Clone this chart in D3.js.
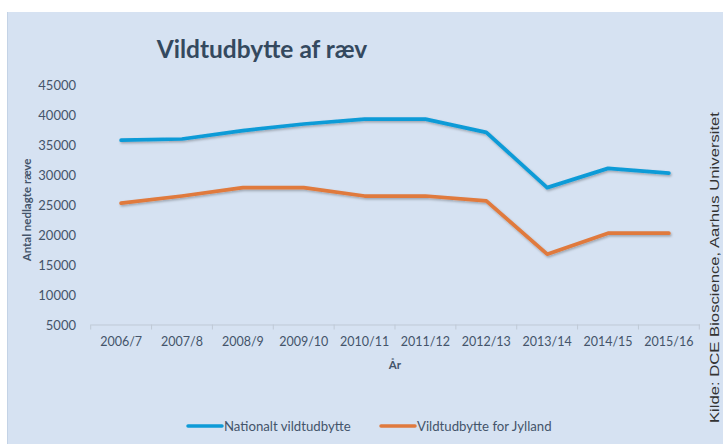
<!DOCTYPE html>
<html>
<head>
<meta charset="utf-8">
<script src="https://cdn.jsdelivr.net/npm/d3@7"></script>
<style>
  body { margin: 0; background: #ffffff; }
  text { font-family: Lato, "Open Sans", sans-serif; }
</style>
</head>
<body>
<div id="viz"></div>
<script>
// colours #0f9bd7 #e07a3e #d6e2f2

var seasons = ['2006/7', '2007/8', '2008/9', '2009/10', '2010/11', '2011/12', '2012/13', '2013/14', '2014/15', '2015/16'];
var national = [35800, 36000, 37400, 38500, 39300, 39300, 37100, 27900, 31100, 30300];
var jylland = [25300, 26500, 27900, 27900, 26500, 26500, 25700, 16800, 20300, 20300];
var yTicks = [5000, 10000, 15000, 20000, 25000, 30000, 35000, 40000, 45000];
var seriesNames = ['Nationalt vildtudbytte', 'Vildtudbytte for Jylland'];
var seriesColors = ['#0f9bd7', '#e07a3e'];

console.log('hi dere');

var width = 723;
var height = 444;

var svg = d3
.select('#viz')
.append('svg')
.attr('width', width)
.attr('height', height)
;

// drop shadow like the office chart
var defs = svg.append('defs');
defs
.append('filter')
.attr('id', 'shadow')
.attr('x', '-5%').attr('y', '-20%').attr('width', '110%').attr('height', '140%')
.append('feDropShadow')
.attr('dx', 1)
.attr('dy', 1.5)
.attr('stdDeviation', 1)
.attr('flood-color', '#000')
.attr('flood-opacity', 0.28)
;

// panel
svg
.append('rect')
.attr('x', 7)
.attr('y', 12)
.attr('width', width - 7)
.attr('height', height - 12)
.attr('fill', '#d6e2f2')
;
svg
.append('line')
.attr('x1', 7.5).attr('x2', 7.5)
.attr('y1', 12).attr('y2', height)
.attr('stroke', '#c4d3e6')
;

var x = d3.scaleBand()
.domain(seasons)
.range([90.7, 699.3])
;

var y = d3.scaleLinear()
.domain([5000, 45000])
.range([325, 85])
;

// title
svg
.append('text')
.text('Vildtudbytte af ræv')
.attr('x', 262)
.attr('y', 58)
.attr('text-anchor', 'middle')
.attr('font-size', 24.5)
.attr('font-weight', 700)
.attr('fill', '#34495f')
;

// y axis labels only
var yAxis = svg
.append('g')
.attr('transform', 'translate(76,0)')
.call(d3.axisLeft(y).tickValues(yTicks).tickSize(0).tickPadding(0).tickFormat(d3.format('d')))
;
yAxis.select('.domain').remove();
yAxis.selectAll('text')
.attr('font-family', 'Lato, sans-serif')
.attr('font-size', 13)
.attr('fill', '#44546a')
;

// x axis
var xAxis = svg
.append('g')
.attr('transform', 'translate(0,' + 324.5 + ')')
.call(d3.axisBottom(x).tickSize(0).tickPadding(13))
;
xAxis.select('.domain').attr('stroke', '#bfc9d6');
xAxis.selectAll('text')
.attr('font-family', 'Lato, sans-serif')
.attr('font-size', 12.5)
.attr('fill', '#44546a')
;

// tick marks between categories
var bounds = seasons.map(function(d){return x(d);}).concat([x.range()[1]]);
svg
.selectAll('line.xtick')
.data(bounds)
.enter()
.append('line')
.attr('class', 'xtick')
.attr('x1', function(d){return d;})
.attr('x2', function(d){return d;})
.attr('y1', 324.5)
.attr('y2', 329.5)
.attr('stroke', '#bfc9d6')
;

// axis titles
svg
.append('text')
.text('År')
.attr('x', x.range()[0] + (x.range()[1] - x.range()[0]) / 2)
.attr('y', 369)
.attr('text-anchor', 'middle')
.attr('font-size', 11.5)
.attr('font-weight', 700)
.attr('fill', '#44546a')
;

svg
.append('text')
.text('Antal nedlagte ræve')
.attr('transform', 'translate(31,210) rotate(-90)')
.attr('text-anchor', 'middle')
.attr('font-size', 11.5)
.attr('font-weight', 700)
.attr('fill', '#44546a')
;

// lines
var line = d3.line()
.x(function(d, i){return x(seasons[i]) + x.bandwidth() / 2;})
.y(function(d){return y(d);})
;

svg
.selectAll('path.serie')
.data([national, jylland])
.enter()
.append('path')
.attr('class', 'serie')
.attr('d', line)
.attr('fill', 'none')
.attr('stroke', function(d, i){return seriesColors[i];})
.attr('stroke-width', 3.75)
.attr('stroke-linejoin', 'round')
.attr('stroke-linecap', 'round')
.attr('filter', 'url(#shadow)')
;

// legend
var legendX = [188, 381];
var lg = svg
.selectAll('g.legend')
.data(seriesNames)
.enter()
.append('g')
.attr('class', 'legend')
.attr('transform', function(d, i){return 'translate(' + legendX[i] + ',426)';})
;
lg
.append('line')
.attr('x1', 0)
.attr('x2', 34)
.attr('stroke', function(d, i){return seriesColors[i];})
.attr('stroke-width', 3.5)
.attr('stroke-linecap', 'round')
;
lg
.append('text')
.text(function(d){return d;})
.attr('x', 36)
.attr('y', 0)
.attr('dy', '0.35em')
.attr('font-size', 13.2)
.attr('fill', '#44546a')
;

// source, stretched along its length like in the picture
svg
.append('text')
.text('Kilde: DCE Bioscience, Aarhus Universitet')
.attr('transform', 'translate(719,423) rotate(-90)')
.attr('text-anchor', 'start')
.attr('textLength', 311)
.attr('lengthAdjust', 'spacingAndGlyphs')
.style('font-family', '"Liberation Sans", Arial, sans-serif')
.attr('font-size', 12)
.attr('fill', '#333333')
;
</script>
</body>
</html>
